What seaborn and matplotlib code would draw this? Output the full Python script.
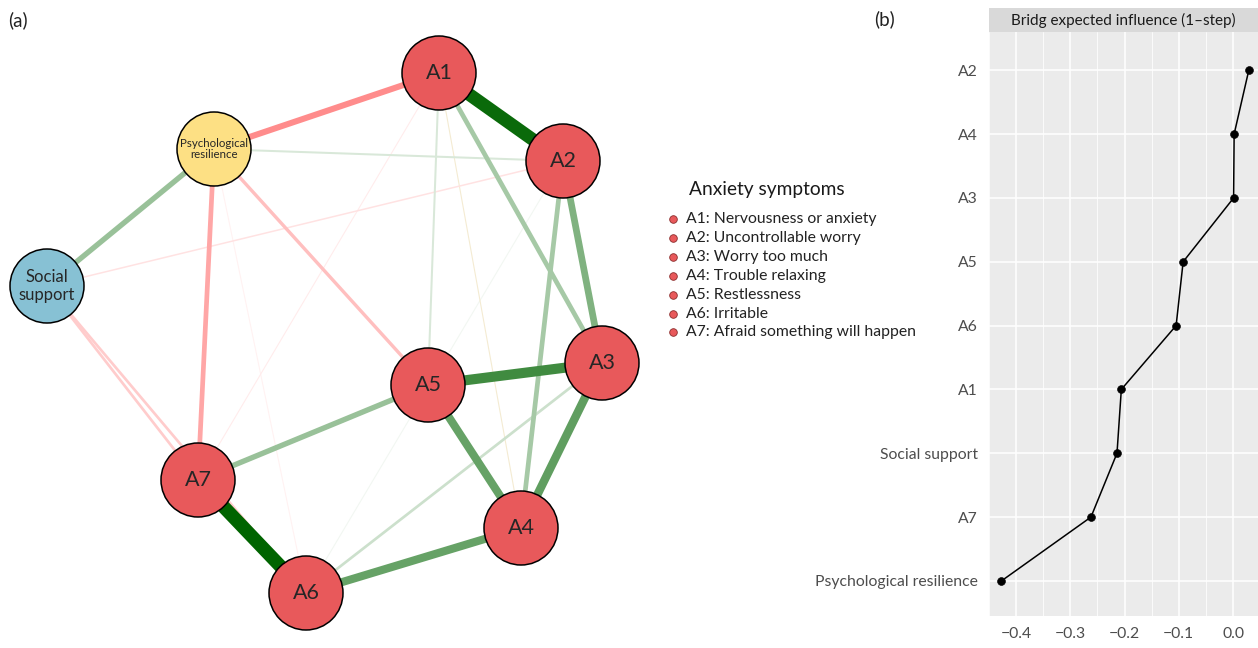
"""Anxiety / resilience network (a) + bridge expected influence (b)."""
import numpy as np
import pandas as pd
import matplotlib
matplotlib.use("Agg")
import matplotlib.pyplot as plt
from matplotlib.patches import Circle, Rectangle
from matplotlib.colors import to_rgb
import seaborn as sns

# ---- panel (a): network nodes (layout in px-like units) ----
nodes = ["A1", "A2", "A3", "A4", "A5", "A6", "A7", "PR", "SS"]
node_x = [439, 563, 602, 521, 428, 306, 198, 214, 47]
node_y = [73, 161, 363, 528, 385, 593, 480, 149, 286]
node_group = ["anx"] * 7 + ["res", "soc"]
node_text = ["A1", "A2", "A3", "A4", "A5", "A6", "A7",
             "Psychological\nresilience", "Social\nsupport"]

# edges: partial correlation weights
edge_from = ["A6", "A1", "A3", "A3", "A6", "A5", "A2", "A5", "PR", "A2", "A1",
             "A3", "PR", "A1", "A2", "A1",
             "A1", "PR", "PR", "SS", "SS", "SS", "A1", "PR"]
edge_to = ["A7", "A2", "A5", "A4", "A4", "A4", "A3", "A7", "SS", "A4", "A3",
           "A6", "A2", "A5", "A6", "A4",
           "PR", "A7", "A5", "A7", "A6", "A2", "A7", "A6"]
edge_w = [0.40, 0.385, 0.30, 0.25, 0.24, 0.24, 0.20, 0.16, 0.16, 0.14, 0.14,
          0.08, 0.06, 0.06, 0.02, 0.03,
          -0.18, -0.14, -0.10, -0.08, -0.08, -0.045, -0.03, -0.02]
edge_kind = ["pos"] * 15 + ["odd"] + ["neg"] * 8

legend_items = ["A1: Nervousness or anxiety", "A2: Uncontrollable worry",
                "A3: Worry too much", "A4: Trouble relaxing", "A5: Restlessness",
                "A6: Irritable", "A7: Afraid something will happen"]

# ---- panel (b): bridge expected influence ----
bei_nodes = ["Psychological resilience", "A7", "Social support", "A1", "A6",
             "A5", "A3", "A4", "A2"]
bei_vals = [-0.427, -0.262, -0.214, -0.206, -0.105, -0.092, 0.001, 0.002, 0.029]

NODE_COL = {"anx": "#e8595b", "res": "#fde084", "soc": "#87c1d4"}
BASE = {"pos": "#006400", "neg": "#ff0000", "odd": "#c89a20"}
WMAX = 0.40
FONT = ["Lato", "DejaVu Sans"]

sns.set_style("white")
plt.rcParams["font.family"] = FONT

fig = plt.figure(figsize=(12.58, 6.48), dpi=100)

# ---------------- (a) network ----------------
ax = fig.add_axes([0, 0, 660 / 1258, 1])
ax.set_xlim(0, 660)
ax.set_ylim(648, 0)
ax.axis("off")
pos = {n: (x, y) for n, x, y in zip(nodes, node_x, node_y)}

edges = pd.DataFrame({"a": edge_from, "b": edge_to, "w": edge_w, "k": edge_kind})
edges["aw"] = edges["w"].abs()
for _, e in edges.sort_values("aw").iterrows():
    a = min(e.aw / WMAX, 1.0)
    if e.k == "odd":
        a = 0.2
    base = np.array(to_rgb(BASE[e.k]))
    col = tuple(1 - a * (1 - base))
    px = max(13.5 * e.aw / WMAX, 1.1)
    (x1, y1), (x2, y2) = pos[e.a], pos[e.b]
    ax.plot([x1, x2], [y1, y2], color=col, lw=px * 0.72,
            solid_capstyle="butt", zorder=1)

for n, g, t in zip(nodes, node_group, node_text):
    ax.add_patch(Circle(pos[n], 37, facecolor=NODE_COL[g], edgecolor="black",
                        lw=1.1, zorder=3))
    fs = {"anx": 15.5, "res": 8.3, "soc": 12}[g]
    ax.text(*pos[n], t, ha="center", va="center", fontsize=fs,
            color="#262626", zorder=4, linespacing=1.1)

ax.text(8, 20, "(a)", fontsize=13.5, ha="left", va="center", color="#222222")

# legend
ax.text(689, 190, "Anxiety symptoms", fontsize=13.8, ha="left", va="center",
        color="#1a1a1a")
for i, lab in enumerate(legend_items):
    yy = 219 + i * 18.9
    ax.scatter([673], [yy], s=30, color=NODE_COL["anx"], edgecolor="#8a2c2c",
               lw=0.6, zorder=3, clip_on=False)
    ax.text(686, yy, lab, fontsize=11.3, ha="left", va="center",
            color="#222222", clip_on=False)

# ---------------- (b) bridge expected influence ----------------
L, R, T, B = 989, 1258, 32, 616
bx = fig.add_axes([L / 1258, 1 - B / 648, (R - L) / 1258, (B - T) / 648])
bx.set_facecolor("#ebebeb")
df = pd.DataFrame({"node": bei_nodes, "value": bei_vals,
                   "y": np.arange(len(bei_nodes))})
sns.lineplot(data=df, x="value", y="y", sort=False, estimator=None,
             color="black", lw=1.1, ax=bx)
sns.scatterplot(data=df, x="value", y="y", color="black", s=32,
                edgecolor="black", zorder=3, ax=bx)
bx.set_xlim(-0.45, 0.046)
bx.set_ylim(-0.55, len(bei_nodes) - 0.4)
bx.set_yticks(df["y"])
bx.set_yticklabels(bei_nodes)
bx.set_xticks([-0.4, -0.3, -0.2, -0.1, 0.0])
bx.set_xticklabels(["\u22120.4", "\u22120.3", "\u22120.2", "\u22120.1", "0.0"])
bx.set_xticks([-0.45, -0.35, -0.25, -0.15, -0.05], minor=True)
bx.grid(True, which="major", color="white", lw=1.1)
bx.grid(True, which="minor", axis="x", color="white", lw=0.55)
bx.set_axisbelow(True)
for s in bx.spines.values():
    s.set_visible(False)
bx.tick_params(axis="both", which="major", length=3.5, width=0.8,
               color="#333333", labelcolor="#4d4d4d", labelsize=11.3, pad=4.5)
bx.tick_params(axis="both", which="minor", length=0)
bx.set_xlabel("")
bx.set_ylabel("")

# facet strip
strip = fig.add_axes([L / 1258, 1 - T / 648, (R - L) / 1258, 24 / 648])
strip.add_patch(Rectangle((0, 0), 1, 1, color="#d9d9d9", transform=strip.transAxes))
strip.axis("off")
strip.text(0.5, 0.5, "Bridg expected influence (1\u2013step)", ha="center",
           va="center", fontsize=11, color="#1a1a1a", transform=strip.transAxes)

fig.text(874 / 1258, 1 - 19 / 648, "(b)", fontsize=13.5, ha="left", va="center",
         color="#222222")

fig.savefig("out.png", dpi=100)
